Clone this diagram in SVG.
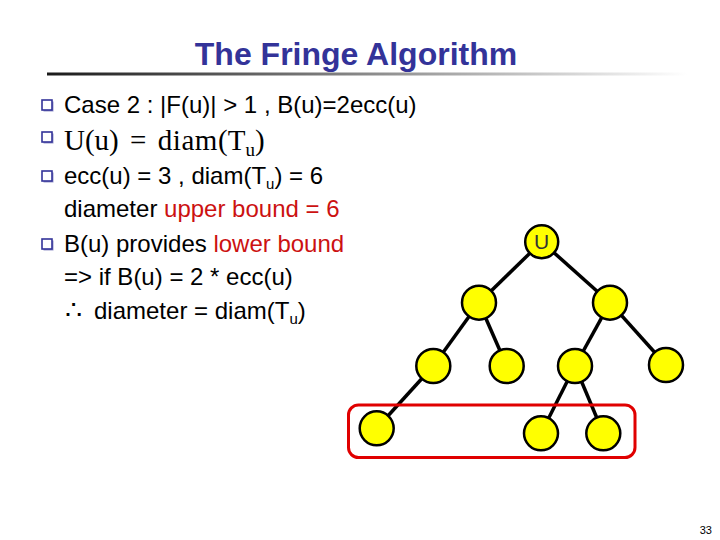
<svg xmlns="http://www.w3.org/2000/svg" width="720" height="540" viewBox="0 0 720 540">
<defs>
<linearGradient id="rule" x1="0" y1="0" x2="1" y2="0">
<stop offset="0" stop-color="#1a1a1a"/>
<stop offset="0.5" stop-color="#8a8a8a"/>
<stop offset="1" stop-color="#ffffff"/>
</linearGradient>
<g id="bullet">
<rect x="1.5" y="1.5" width="10" height="10" fill="#9999cc"/>
<rect x="0" y="0" width="10" height="10" fill="#ffffff" stroke="#333399" stroke-width="1.6"/>
</g>
</defs>
<style>
.t{font-family:"Liberation Sans",Arial,sans-serif;font-size:24px;fill:#000}
.r{fill:#cc1111}
.m{font-family:"Liberation Serif","Times New Roman",serif;font-size:29px;fill:#000}
.edge{stroke:#000;stroke-width:3.5;fill:none}
.node{fill:#ffff00;stroke:#000;stroke-width:2.5}
</style>
<rect width="720" height="540" fill="#fff"/>
<text x="356" y="65" text-anchor="middle" style="font-family:'Liberation Sans',Arial,sans-serif;font-size:32px;font-weight:bold;fill:#333399">The Fringe Algorithm</text>
<rect x="47" y="72.5" width="640" height="3" fill="url(#rule)"/>

<use href="#bullet" x="42" y="100"/>
<use href="#bullet" x="42" y="132"/>
<use href="#bullet" x="42" y="171"/>
<use href="#bullet" x="42" y="239"/>

<text class="t" x="64" y="113">Case 2 : |F(u)| &gt; 1 , B(u)=2ecc(u)</text>
<text class="m" x="64" y="150">U(u) <tspan dx="4">=</tspan> <tspan dx="4" letter-spacing="0.6">diam</tspan>(T<tspan font-size="19" dy="6">u</tspan><tspan dy="-6">)</tspan></text>
<text class="t" x="64" y="184">ecc(u) = 3 , diam(T<tspan font-size="15" dy="5">u</tspan><tspan dy="-5">) = 6</tspan></text>
<text class="t" x="64" y="217">diameter <tspan class="r">upper bound = 6</tspan></text>
<text class="t" x="64" y="252">B(u) provides <tspan class="r">lower bound</tspan></text>
<text class="t" x="64" y="285">=&gt; if B(u) = 2 * ecc(u)</text>
<text class="t" x="65" y="319"><tspan font-size="27">∴</tspan><tspan dx="12">diameter = diam(T</tspan><tspan font-size="15" dy="5">u</tspan><tspan dy="-5">)</tspan></text>

<g id="connectors">
<line class="edge" x1="541.7" y1="241.7" x2="479" y2="302.7"/>
<line class="edge" x1="541.7" y1="241.7" x2="610" y2="302.7"/>
<line class="edge" x1="479" y1="302.7" x2="433.3" y2="366"/>
<line class="edge" x1="479" y1="302.7" x2="506.7" y2="366"/>
<line class="edge" x1="610" y1="302.7" x2="575" y2="366"/>
<line class="edge" x1="610" y1="302.7" x2="666" y2="365"/>
<line class="edge" x1="433.3" y1="366" x2="376.7" y2="428.3"/>
<line class="edge" x1="575" y1="366" x2="541" y2="433.3"/>
<line class="edge" x1="575" y1="366" x2="603.3" y2="433.3"/>
</g>

<g id="node-u"><circle class="node" cx="541.7" cy="241.7" r="16.5"/><text x="541.7" y="249" text-anchor="middle" style="font-family:'Liberation Sans',Arial,sans-serif;font-size:21px;fill:#333">U</text></g>
<g id="node-l"><circle class="node" cx="479" cy="302.7" r="17"/></g>
<g id="node-r"><circle class="node" cx="610" cy="302.7" r="17"/></g>
<g id="node-ll"><circle class="node" cx="433.3" cy="366" r="17"/></g>
<g id="node-lr"><circle class="node" cx="506.7" cy="366" r="17"/></g>
<g id="node-rl"><circle class="node" cx="575" cy="366" r="17"/></g>
<g id="node-rr"><circle class="node" cx="666" cy="365" r="17"/></g>
<g id="node-lll"><circle class="node" cx="376.7" cy="428.3" r="17"/></g>
<g id="node-rll"><circle class="node" cx="541" cy="433.3" r="17"/></g>
<g id="node-rlr"><circle class="node" cx="603.3" cy="433.3" r="17"/></g>

<rect x="348.5" y="405" width="286.5" height="52.5" rx="10" fill="none" stroke="#e00000" stroke-width="3"/>

<text x="712" y="534" text-anchor="end" style="font-family:'Liberation Sans',Arial,sans-serif;font-size:11px;fill:#000">33</text>
</svg>
